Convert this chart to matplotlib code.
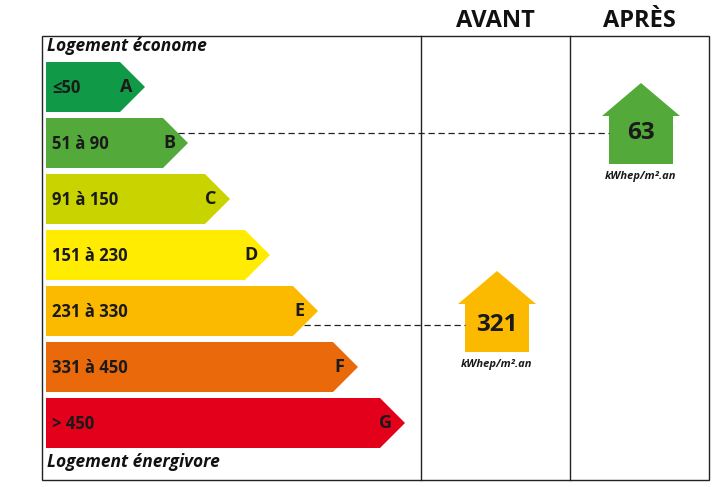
import matplotlib.pyplot as plt
from matplotlib.patches import Polygon, Rectangle

# Energy classes (DPE label)
classes = ["A", "B", "C", "D", "E", "F", "G"]
ranges = ["≤50", "51 à 90", "91 à 150", "151 à 230", "231 à 330", "331 à 450", "> 450"]
class_colors = ["#109a47", "#53a93a", "#c8d300", "#ffec00", "#fbba00", "#ea690b", "#e2001a"]
upper_limits = [50, 90, 150, 230, 330, 450]

columns = ["AVANT", "APRÈS"]
consumption = [321, 63]
unit = "kWhep/m².an"

# layout (pixels, y downwards)
W, H = 723, 487
bar_left = 46
bar_tips = [145, 188, 230, 270, 318, 358, 405]
bar_top0, bar_step, bar_h = 62, 56, 50
box = (42, 36, 709, 480)
col_dividers = [421, 570]
house_cx = [497, 641]
house_roof_y = [304, 116]
house_line_y = [325, 133]

FONT = "Open Sans"


def class_of(value):
    for i, lim in enumerate(upper_limits):
        if value <= lim:
            return i
    return len(upper_limits)


fig = plt.figure(figsize=(W / 100, H / 100), dpi=100)
ax = fig.add_axes([0, 0, 1, 1])
ax.set_xlim(0, W)
ax.set_ylim(H, 0)
ax.axis("off")

# frame and columns
x0, y0, x1, y1 = box
ax.add_patch(Rectangle((x0, y0), x1 - x0, y1 - y0, fill=False, lw=1.0, ec="#222222"))
for xd in col_dividers:
    ax.plot([xd, xd], [y0, y1], color="#222222", lw=1.0)

col_centers = [(col_dividers[0] + col_dividers[1]) / 2, (col_dividers[1] + x1) / 2]
for name, cx in zip(columns, col_centers):
    ax.text(cx, 21, name, ha="center", va="center", fontsize=17, fontweight="bold",
            family=FONT, color="#111111")

ax.text(47, 46, "Logement économe", ha="left", va="center", fontsize=12.5,
        fontweight="bold", style="italic", family=FONT, color="#111111")
ax.text(47, 462, "Logement énergivore", ha="left", va="center", fontsize=12.5,
        fontweight="bold", style="italic", family=FONT, color="#111111")

# class arrows
for i, (cls, rng, col, tip) in enumerate(zip(classes, ranges, class_colors, bar_tips)):
    top = bar_top0 + i * bar_step
    bot = top + bar_h
    mid = (top + bot) / 2
    shoulder = tip - bar_h / 2
    ax.add_patch(Polygon([(bar_left, top), (shoulder, top), (tip, mid),
                          (shoulder, bot), (bar_left, bot)],
                         closed=True, fc=col, ec="none"))
    ax.text(52, mid + 1, rng, ha="left", va="center", fontsize=12,
            fontweight="bold", family=FONT, color="#1a1a1a")
    ax.text(tip - 19, mid, cls, ha="center", va="center", fontsize=13,
            fontweight="bold", family=FONT, color="#1a1a1a")

# houses with consumption values
for cx, roof_base, ly, val in zip(house_cx, house_roof_y, house_line_y, consumption):
    k = class_of(val)
    col = class_colors[k]
    apex = roof_base - 33
    bottom = roof_base + 48
    ax.add_patch(Polygon([(cx, apex), (cx + 39, roof_base), (cx + 32, roof_base),
                          (cx + 32, bottom), (cx - 32, bottom), (cx - 32, roof_base),
                          (cx - 39, roof_base)], closed=True, fc=col, ec="none"))
    ax.text(cx, ly, str(val), ha="center", va="center", fontsize=17.5,
            fontweight="bold", family=FONT, color="#1a1a1a")
    ax.text(cx, bottom + 13, unit, ha="center", va="center", fontsize=8,
            fontweight="bold", style="italic", family=FONT, color="#1a1a1a")
    # dashed leader from class arrow to house
    top = bar_top0 + k * bar_step
    mid = top + bar_h / 2
    tip = bar_tips[k]
    start = tip - abs(ly - mid)
    ax.plot([start, cx - 32], [ly, ly], color="#222222", lw=0.9, ls=(0, (5, 3)))

fig.savefig("out.png", dpi=100)
